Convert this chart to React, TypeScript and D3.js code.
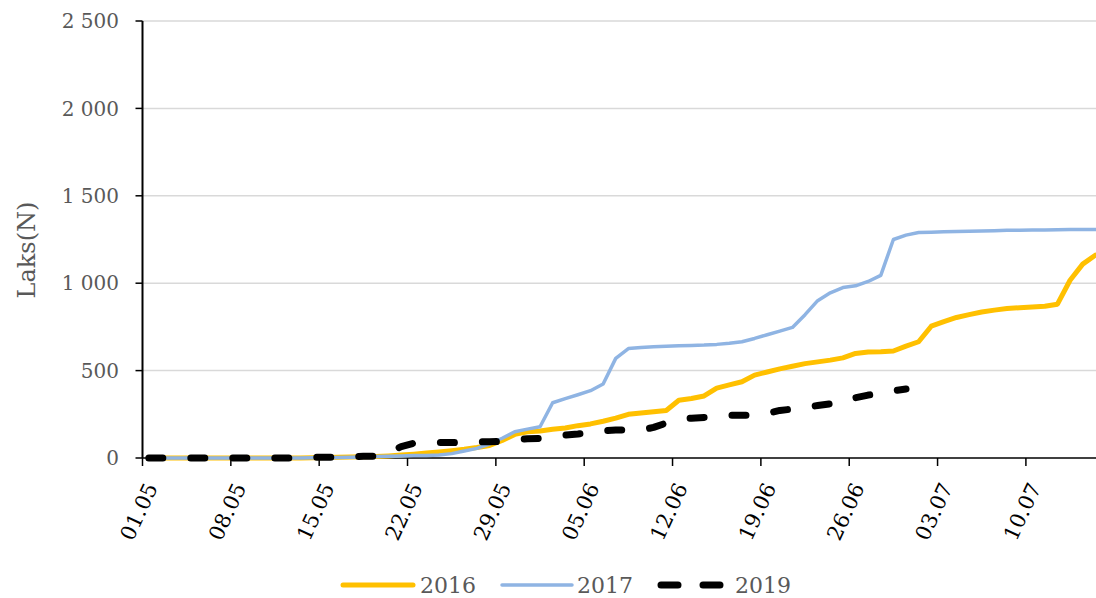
import React from 'react';
import * as d3 from 'd3';

// days from 01.05 to 17.07
const startDay = Date.UTC(2019, 4, 1);
const endDay = Date.UTC(2019, 6, 18);

const tickLabels = ['01.05', '08.05', '15.05', '22.05', '29.05', '05.06', '12.06', '19.06', '26.06', '03.07', '10.07'];
const yTicks = [0, 500, 1000, 1500, 2000, 2500];

// cumulative counts, one value per day from 01.05
const series2016 = [
  0, 0, 0, 0, 0, 0, 0, 0, 0, 0, 0, 0, 0, 1, 3, 5, 6, 7, 8, 12,
  17, 22, 28, 35, 42, 50, 60, 72, 100, 135, 150, 155, 165, 172, 185, 195, 210, 228, 250, 258,
  265, 272, 330, 340, 355, 400, 418, 436, 474, 492, 510, 525, 540, 550, 560, 573, 598, 606, 608, 612,
  640, 665, 754, 780, 804, 820, 835, 846, 855, 860, 864, 868, 880, 1017, 1109, 1160,
];
const series2017 = [
  0, 0, 0, 0, 0, 0, 0, 0, 0, 0, 0, 0, 0, 1, 2, 3, 5, 6, 8, 10,
  12, 14, 15, 17, 25, 40, 55, 80, 113, 150, 165, 179, 316, 340, 362, 385, 423, 570, 626, 632,
  636, 640, 642, 644, 646, 650, 656, 665, 684, 705, 726, 747, 820, 900, 945, 975, 985, 1010, 1045, 1250,
  1275, 1290, 1292, 1294, 1296, 1297, 1298, 1300, 1303, 1303, 1304, 1305, 1306, 1307, 1307, 1307,
];
const series2019 = [
  0, 0, 0, 0, 0, 0, 0, 0, 0, 0, 0, 0, 0, 5, 5, 5, 5, 10, 10, 30,
  65, 85, 88, 88, 88, 90, 92, 93, 95, 105, 110, 112, 122, 131, 137, 145, 155, 160, 160, 160,
  175, 200, 222, 228, 232, 240, 245, 245, 245, 255, 272, 280, 290, 300, 310, 340, 345, 360, 370, 385,
  395,
];

const seriesList = [
  { name: '2016', values: series2016, color: '#FFC000', width: 5, dash: null },
  { name: '2017', values: series2017, color: '#8FB4E3', width: 3.5, dash: null },
  { name: '2019', values: series2019, color: '#000000', width: 7, dash: '14 28' },
];

const font = '"DejaVu Serif", serif';

export default function App() {
  const width = 1096;
  const height = 598;
  const left = 142.5;
  const dayWidth = 12.62;

  const fmt = d3.utcFormat('%d.%m');
  const days = d3.utcDay.range(new Date(startDay), new Date(endDay)).map(d => fmt(d));

  const x = d3.scaleBand<string>()
    .domain(days)
    .range([left, left + days.length * dayWidth])
    .padding(0);
  const y = d3.scaleLinear().domain([0, 2500]).range([458, 21]);

  const cx = (i: number) => (x(days[i]) as number) + x.bandwidth() / 2;
  const line = d3.line<number>()
    .x((_, i) => cx(i))
    .y(d => y(d));

  const legend = [
    { lx: 343, tx: 420 },
    { lx: 502, tx: 577 },
    { lx: 658, tx: 735 },
  ];

  return (
    <>
      <style>{'body{margin:0}'}</style>
      <svg width={width} height={height} style={{ display: 'block', background: '#fff' }}>
        {/* gridlines */}
        {yTicks.filter(t => t > 0).map(t => (
          <line key={t} x1={left} x2={width} y1={y(t)} y2={y(t)} stroke="#D9D9D9" strokeWidth={1.5} />
        ))}

        {/* y axis */}
        <line x1={left} x2={left} y1={y(2500)} y2={y(0)} stroke="#000" strokeWidth={2} />
        {yTicks.map(t => (
          <g key={t}>
            <line x1={left - 7} x2={left} y1={y(t)} y2={y(t)} stroke="#000" strokeWidth={1.5} />
            <text x={119} y={y(t)} dy="0.36em" textAnchor="end" fill="#595959"
              style={{ font: `20px ${font}` }}>
              {d3.format(',')(t).replace(/,/g, ' ')}
            </text>
          </g>
        ))}
        <text transform={`translate(35,250) rotate(-90)`} textAnchor="middle" fill="#595959"
          style={{ font: `24px ${font}` }}>Laks(N)</text>

        {/* x axis */}
        <line x1={left} x2={width} y1={y(0)} y2={y(0)} stroke="#000" strokeWidth={1.5} />
        {tickLabels.map(lbl => {
          const tx = x(lbl) as number;
          return (
            <g key={lbl}>
              <line x1={tx} x2={tx} y1={y(0)} y2={y(0) + 8} stroke="#000" strokeWidth={1.5} />
              <text transform={`translate(${tx + 2},${481}) rotate(-65)`} dy="0.72em" textAnchor="end"
                fill="#000" style={{ font: `21px ${font}` }}>{lbl}</text>
            </g>
          );
        })}

        {/* series */}
        {seriesList.map(s => (
          <path key={s.name} d={line(s.values) || ''} fill="none" stroke={s.color}
            strokeWidth={s.width} strokeLinejoin="round" strokeLinecap="round"
            strokeDasharray={s.dash || undefined} />
        ))}

        {/* legend */}
        {seriesList.map((s, i) => (
          <g key={s.name}>
            {s.dash ? (
              <line x1={legend[i].lx + 3} x2={legend[i].lx + 62} y1={585} y2={585} stroke={s.color}
                strokeWidth={s.width} strokeLinecap="round" strokeDasharray="17 25" />
            ) : (
              <line x1={legend[i].lx} x2={legend[i].lx + 70} y1={585} y2={585} stroke={s.color}
                strokeWidth={s.width} strokeLinecap="round" />
            )}
            <text x={legend[i].tx} y={585} dy="0.36em" fill="#595959"
              style={{ font: `22px ${font}` }}>{s.name}</text>
          </g>
        ))}
      </svg>
    </>
  );
}
